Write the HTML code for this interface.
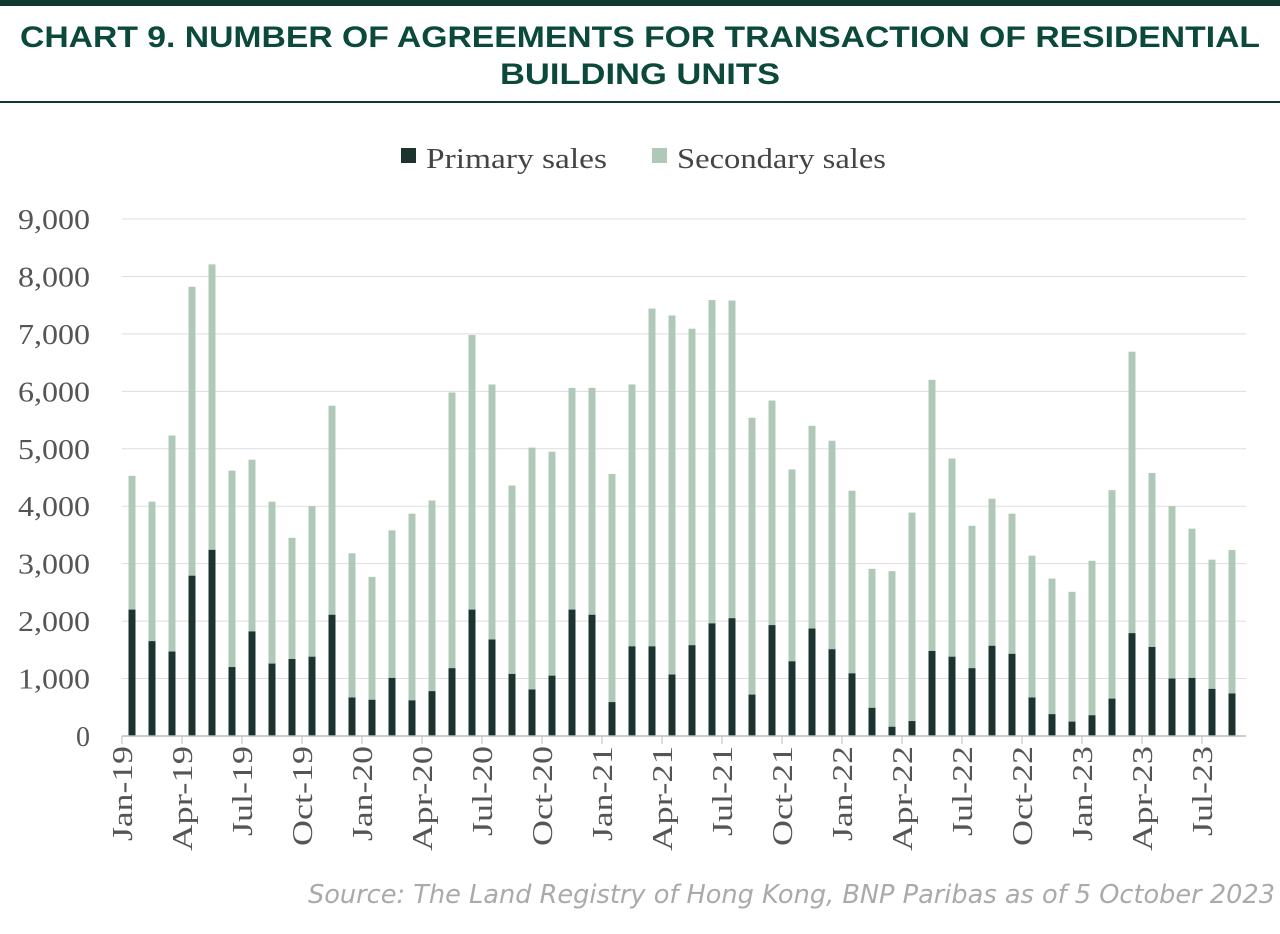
<!DOCTYPE html>
<html><head><meta charset="utf-8">
<style>
body{margin:0;width:1280px;height:934px;background:#fff;overflow:hidden;}
svg{display:block}
</style></head><body>
<svg id="s" width="1280" height="934" xmlns="http://www.w3.org/2000/svg">
<rect x="0" y="0" width="1280" height="6" fill="#0d3b30"/>
<text x="20" y="47" textLength="1240" lengthAdjust="spacingAndGlyphs" font-family="Liberation Sans, sans-serif" font-weight="bold" font-size="30" fill="#0b4a3a">CHART 9. NUMBER OF AGREEMENTS FOR TRANSACTION OF RESIDENTIAL</text>
<text x="500" y="84" textLength="280" lengthAdjust="spacingAndGlyphs" font-family="Liberation Sans, sans-serif" font-weight="bold" font-size="30" fill="#0b4a3a">BUILDING UNITS</text>
<rect x="0" y="101" width="1280" height="2" fill="#0d3b30"/>
<rect x="401" y="148" width="15" height="15" fill="#1c3330"/>
<text x="426" y="168" textLength="181" lengthAdjust="spacingAndGlyphs" font-family="Liberation Serif, serif" font-size="29" fill="#444">Primary sales</text>
<rect x="652" y="148" width="15" height="15" fill="#b0c8b8"/>
<text x="677" y="168" textLength="209" lengthAdjust="spacingAndGlyphs" font-family="Liberation Serif, serif" font-size="29" fill="#444">Secondary sales</text>
<g id="g"></g>
<text x="308" y="903" textLength="967" lengthAdjust="spacingAndGlyphs" font-family="DejaVu Sans, sans-serif" font-style="italic" font-size="26" fill="#aaa">Source: The Land Registry of Hong Kong, BNP Paribas as of 5 October 2023</text>
</svg>
<script>
var T=[4530,4080,5230,7820,8210,4620,4810,4080,3450,4000,5750,3180,2770,3580,3870,4100,5980,6980,6120,4360,5020,4950,6060,6060,4560,6120,7440,7320,7090,7590,7580,5540,5840,4640,5400,5140,4270,2910,2870,3890,6200,4830,3660,4130,3870,3140,2740,2510,3050,4280,6690,4580,4000,3610,3070,3240];
var P=[2200,1650,1470,2790,3240,1200,1820,1260,1340,1380,2110,670,630,1010,620,780,1180,2200,1680,1080,810,1050,2200,2110,590,1560,1560,1070,1580,1960,2050,720,1930,1300,1870,1510,1090,490,160,260,1480,1380,1180,1570,1430,670,380,250,360,650,1790,1550,1000,1010,820,740];
var y0=736,k=517/9000,h='';
for(var i=0;i<=9;i++){var y=y0-i*1000*k;
 if(i>0)h+='<line x1="122" x2="1246" y1="'+y+'" y2="'+y+'" stroke="#ddd" stroke-width="1"/>';
 if(i==0)h+='<text x="90" y="'+(y+10)+'" text-anchor="end" font-family="Liberation Serif, serif" font-size="28" fill="#555">0</text>';
 else h+='<text x="18" y="'+(y+10)+'" textLength="72" lengthAdjust="spacingAndGlyphs" font-family="Liberation Serif, serif" font-size="28" fill="#555">'+i+',000</text>';}
for(var i=0;i<T.length;i++){var cx=132+20*i;
 h+='<rect x="'+(cx-3.5)+'" y="'+(y0-T[i]*k)+'" width="7" height="'+(T[i]*k)+'" fill="#b0c8b8"/>';
 h+='<rect x="'+(cx-3.5)+'" y="'+(y0-P[i]*k)+'" width="7" height="'+(P[i]*k)+'" fill="#1c3330"/>';}
h+='<line x1="122" x2="1246" y1="736" y2="736" stroke="#bbb" stroke-width="1.5"/>';
var M=['Jan','Apr','Jul','Oct'],L=[95,105,90,100];
for(var i=0;i<=18;i++){var x=122+60*i;
 h+='<line x1="'+x+'" x2="'+x+'" y1="736" y2="744" stroke="#bbb"/>';
 var yr=19+Math.floor(i/4);var lab=M[i%4]+'-'+yr;var len=L[i%4];
 h+='<text transform="translate('+(x+10)+','+(746+len)+') rotate(-90)" textLength="'+len+'" lengthAdjust="spacingAndGlyphs" font-family="Liberation Serif, serif" font-size="28" fill="#555">'+lab+'</text>';}
document.getElementById('g').innerHTML=h;
</script>
</body></html>
